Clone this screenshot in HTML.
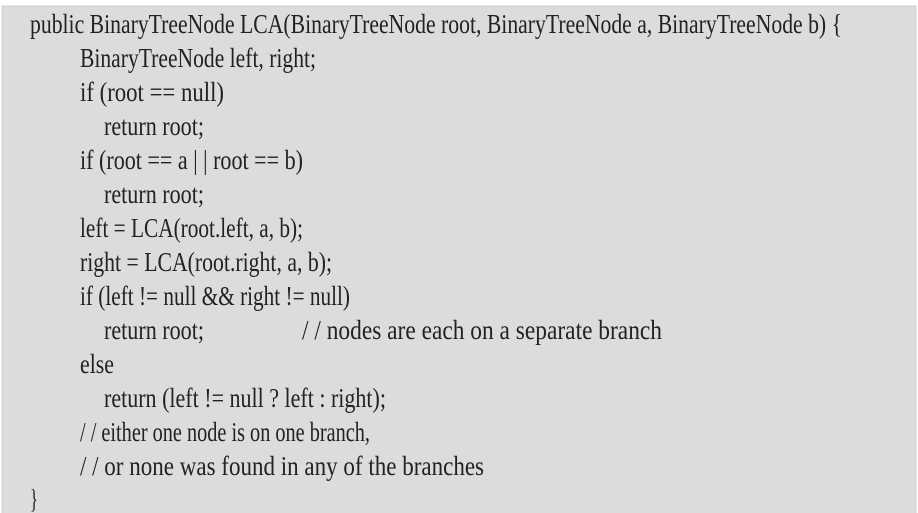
<!DOCTYPE html>
<html><head><meta charset="utf-8"><style>
html,body{margin:0;padding:0;background:#fff;width:918px;height:513px;overflow:hidden}
text{font-family:"Liberation Serif",serif;font-size:27px;fill:#222}
</style></head><body>
<svg width="918" height="513" viewBox="0 0 918 513" xmlns="http://www.w3.org/2000/svg">
<rect x="2" y="6" width="914" height="510" fill="#dcdcdc" stroke="#cfcfcf" stroke-width="1"/>
<text x="30" y="33" textLength="812" lengthAdjust="spacingAndGlyphs">public BinaryTreeNode LCA(BinaryTreeNode root, BinaryTreeNode a, BinaryTreeNode b) {</text>
<text x="80" y="67" textLength="236" lengthAdjust="spacingAndGlyphs">BinaryTreeNode left, right;</text>
<text x="80" y="101" textLength="144" lengthAdjust="spacingAndGlyphs">if (root == null)</text>
<text x="104" y="135" textLength="100" lengthAdjust="spacingAndGlyphs">return root;</text>
<text x="80" y="169" textLength="223" lengthAdjust="spacingAndGlyphs">if (root == a | | root == b)</text>
<text x="104" y="203" textLength="100" lengthAdjust="spacingAndGlyphs">return root;</text>
<text x="80" y="237" textLength="223" lengthAdjust="spacingAndGlyphs">left = LCA(root.left, a, b);</text>
<text x="80" y="271" textLength="252" lengthAdjust="spacingAndGlyphs">right = LCA(root.right, a, b);</text>
<text x="80" y="305" textLength="270" lengthAdjust="spacingAndGlyphs">if (left != null &amp;&amp; right != null)</text>
<text x="104" y="339" textLength="100" lengthAdjust="spacingAndGlyphs">return root;</text>
<text x="302" y="339" textLength="360" lengthAdjust="spacingAndGlyphs">/ / nodes are each on a separate branch</text>
<text x="80" y="373" textLength="34" lengthAdjust="spacingAndGlyphs">else</text>
<text x="104" y="407" textLength="282" lengthAdjust="spacingAndGlyphs">return (left != null ? left : right);</text>
<text x="80" y="441" textLength="290" lengthAdjust="spacingAndGlyphs">/ / either one node is on one branch,</text>
<text x="80" y="475" textLength="404" lengthAdjust="spacingAndGlyphs">/ / or none was found in any of the branches</text>
<text x="30" y="508" textLength="8" lengthAdjust="spacingAndGlyphs">}</text>
</svg>
</body></html>
